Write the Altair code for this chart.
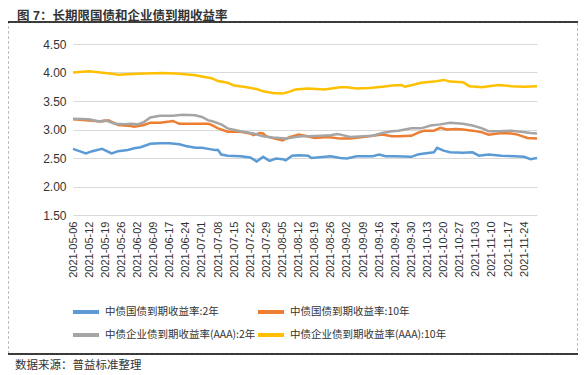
import json
import altair as alt
import pandas as pd

tick_labels = ["2021-05-06", "2021-05-12", "2021-05-19", "2021-05-26", "2021-06-02",
               "2021-06-09", "2021-06-17", "2021-06-24", "2021-07-01", "2021-07-08",
               "2021-07-15", "2021-07-22", "2021-07-29", "2021-08-05", "2021-08-12",
               "2021-08-19", "2021-08-26", "2021-09-02", "2021-09-09", "2021-09-16",
               "2021-09-24", "2021-09-30", "2021-10-13", "2021-10-20", "2021-10-27",
               "2021-11-03", "2021-11-10", "2021-11-17", "2021-11-24"]
tick_idx = [0, 5, 10, 15, 20, 25, 30, 35, 40, 45, 50, 55, 60, 65, 70, 75, 80, 85, 90,
            95, 100, 105, 110, 115, 120, 125, 130, 135, 140]
y_ticks = [1.5, 2.0, 2.5, 3.0, 3.5, 4.0, 4.5]

series_names = ["中债国债到期收益率:2年", "中债国债到期收益率:10年",
                "中债企业债到期收益率(AAA):2年", "中债企业债到期收益率(AAA):10年"]
colors = ["#5B9BD5", "#ED7D31", "#A5A5A5", "#FFC000"]

# trading-day index -> yield (%)
gov2_idx = [0, 2, 4, 6, 9, 12, 14, 17, 19, 21, 24, 27, 30, 33, 35, 38, 40, 42, 44, 45,
            46, 48, 52, 55, 57, 59, 61, 63, 65, 66, 68, 70, 73, 74, 80, 83, 85, 88, 93,
            95, 97, 100, 105, 107, 109, 112, 113, 115, 117, 121, 124, 126, 129, 133,
            137, 140, 142, 144]
gov2_val = [2.66, 2.62, 2.58, 2.62, 2.66, 2.58, 2.62, 2.64, 2.67, 2.69, 2.75, 2.76, 2.76,
            2.74, 2.71, 2.68, 2.68, 2.66, 2.64, 2.64, 2.56, 2.54, 2.53, 2.51, 2.44, 2.52,
            2.45, 2.49, 2.48, 2.46, 2.54, 2.55, 2.54, 2.50, 2.53, 2.50, 2.49, 2.53, 2.53,
            2.56, 2.53, 2.53, 2.52, 2.56, 2.58, 2.60, 2.68, 2.63, 2.60, 2.59, 2.60, 2.54,
            2.56, 2.54, 2.53, 2.52, 2.48, 2.50]

gov10_idx = [0, 5, 9, 11, 14, 18, 19, 22, 24, 27, 30, 31, 33, 38, 42, 43, 45, 48, 52, 55,
             56, 58, 59, 60, 62, 65, 67, 70, 72, 75, 79, 83, 86, 90, 93, 96, 99, 101, 105,
             107, 109, 112, 114, 116, 119, 121, 124, 127, 129, 133, 136, 138, 141, 144]
gov10_val = [3.18, 3.16, 3.14, 3.16, 3.08, 3.06, 3.05, 3.08, 3.12, 3.12, 3.14, 3.15, 3.10,
             3.10, 3.10, 3.08, 3.02, 2.96, 2.96, 2.93, 2.90, 2.94, 2.93, 2.88, 2.85, 2.81,
             2.86, 2.91, 2.89, 2.85, 2.87, 2.84, 2.84, 2.87, 2.89, 2.91, 2.88, 2.88, 2.89,
             2.94, 2.98, 2.98, 3.03, 3.00, 3.01, 3.00, 2.98, 2.95, 2.91, 2.94, 2.93, 2.91,
             2.85, 2.84]

corp2_idx = [0, 5, 8, 10, 13, 16, 18, 20, 22, 24, 27, 31, 34, 38, 40, 42, 43, 46, 48, 52,
             56, 59, 62, 66, 69, 71, 73, 77, 80, 82, 83, 86, 90, 93, 96, 99, 101, 105, 108,
             111, 114, 117, 121, 124, 127, 129, 132, 136, 139, 142, 144]
corp2_val = [3.19, 3.18, 3.14, 3.16, 3.10, 3.09, 3.10, 3.09, 3.13, 3.21, 3.24, 3.24, 3.26,
             3.25, 3.22, 3.16, 3.15, 3.09, 3.02, 2.97, 2.93, 2.88, 2.86, 2.84, 2.87, 2.88,
             2.88, 2.89, 2.90, 2.92, 2.91, 2.87, 2.88, 2.89, 2.94, 2.97, 2.98, 3.02, 3.02,
             3.07, 3.09, 3.12, 3.10, 3.07, 3.02, 2.97, 2.97, 2.98, 2.96, 2.94, 2.93]

corp10_idx = [0, 5, 12, 14, 20, 28, 33, 38, 40, 43, 45, 48, 50, 54, 57, 59, 62, 65, 67, 69,
              73, 78, 83, 85, 88, 92, 96, 99, 102, 103, 106, 108, 112, 115, 117, 121, 123,
              127, 129, 132, 136, 140, 144]
corp10_val = [4.00, 4.02, 3.98, 3.96, 3.98, 3.99, 3.98, 3.95, 3.93, 3.90, 3.85, 3.82, 3.77,
              3.74, 3.71, 3.67, 3.64, 3.63, 3.66, 3.70, 3.72, 3.70, 3.74, 3.74, 3.72, 3.73,
              3.75, 3.77, 3.78, 3.75, 3.79, 3.82, 3.84, 3.87, 3.84, 3.83, 3.76, 3.74, 3.76,
              3.78, 3.76, 3.75, 3.76]

title_text = "图 7：长期限国债和企业债到期收益率"
footer_text = "数据来源：普益标准整理"

rows = []
for name, idx, val in zip(series_names,
                          [gov2_idx, gov10_idx, corp2_idx, corp10_idx],
                          [gov2_val, gov10_val, corp2_val, corp10_val]):
    for i, v in zip(idx, val):
        rows.append({"idx": i, "val": v, "series": name})
df = pd.DataFrame(rows)

label_expr = json.dumps(tick_labels) + "[round(datum.value / 5)]"
cjk = "Noto Sans CJK SC"

lines = alt.Chart(df).mark_line(strokeWidth=2.5).encode(
    x=alt.X("idx:Q",
            scale=alt.Scale(domain=[0, 144], nice=False, zero=False),
            axis=alt.Axis(values=tick_idx, labelExpr=label_expr, labelAngle=270,
                          labelFontSize=11, labelFont="Liberation Sans",
                          labelColor="#333333", labelPadding=6, domain=False,
                          ticks=False, grid=False, title=None, labelOverlap=False)),
    y=alt.Y("val:Q",
            scale=alt.Scale(domain=[1.5, 4.5], nice=False, zero=False),
            axis=alt.Axis(values=y_ticks, format=".2f", labelFontSize=12,
                          labelFont="Liberation Sans", labelColor="#333333",
                          labelPadding=7, domain=False, ticks=False,
                          gridColor="#D9D9D9", gridWidth=1, title=None)),
    color=alt.Color("series:N",
                    scale=alt.Scale(domain=series_names, range=colors),
                    legend=alt.Legend(orient="none", legendX=-2, legendY=253,
                                      direction="horizontal",
                                      columns=2, symbolType="stroke", symbolSize=676,
                                      symbolStrokeWidth=4, labelFont=cjk,
                                      labelFontSize=10.5, labelColor="#333333",
                                      labelOffset=4, columnPadding=-6, rowPadding=-8,
                                      labelLimit=400, title=None)),
)

one = pd.DataFrame({"a": [0]})

box = alt.Chart(one).mark_rect(filled=False, stroke="#BFBFBF", strokeWidth=1,
                               strokeDash=[3, 2]).encode(
    x=alt.value(-64.5), x2=alt.value(504.5), y=alt.value(-22), y2=alt.value(310))
top_rule = alt.Chart(one).mark_rule(color="#000000", strokeWidth=1.5).encode(
    x=alt.value(-65), x2=alt.value(505), y=alt.value(-22))
bottom_rule = alt.Chart(one).mark_rule(color="#000000", strokeWidth=1.5).encode(
    x=alt.value(-65), x2=alt.value(505), y=alt.value(310))
title = alt.Chart(one).mark_text(text=title_text, align="left", baseline="alphabetic",
                                 font="Liberation Sans, Noto Sans CJK SC", fontSize=12.5,
                                 fontWeight="bold", color="#333333").encode(
    x=alt.value(-56), y=alt.value(-24.4))
footer = alt.Chart(one).mark_text(text=footer_text, align="left", baseline="middle",
                                  font=cjk, fontSize=11.5, color="#333333").encode(
    x=alt.value(-58), y=alt.value(322))

chart = alt.layer(box, top_rule, bottom_rule, title, footer, lines).properties(
    width=464, height=171,
    padding={"left": 65, "top": 36, "right": 41, "bottom": 157},
    autosize=alt.AutoSizeParams(type="none"),
).configure_view(stroke=None)

chart.save("out.html", embed_options={"renderer": "svg", "actions": False})
